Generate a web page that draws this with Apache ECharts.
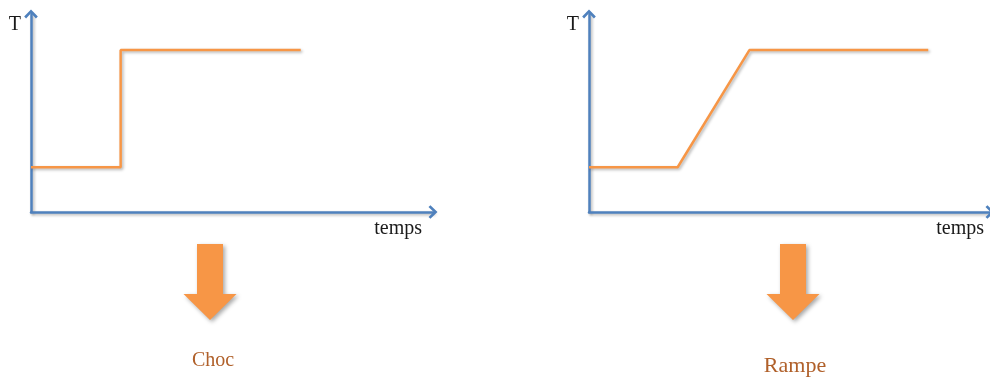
<!DOCTYPE html>
<html><head><meta charset="utf-8">
<script src="https://cdn.jsdelivr.net/npm/echarts@6/dist/echarts.min.js"></script>
<style>html,body{margin:0;padding:0;background:#fff}#c{width:990px;height:378px}</style>
</head><body><div id="c"></div>
<script>
const chocX = [0, 22.3, 22.3, 67.1];
const chocT = [22.6, 22.6, 81.8, 81.8];
const rampeX = [0, 22.1, 40.0, 84.6];
const rampeT = [22.6, 22.6, 81.8, 81.8];
const labels = ['Choc', 'Rampe'];
const axisNames = { y: 'T', x: 'temps' };

const BLUE = '#4F81BD', ORANGE = '#F79646', BROWN = '#B0602A';
const chevron = 'path://M6,0 L12,6.2 L10.3,7.9 L6,3.4 L1.7,7.9 L0,6.2 Z';
const shadow = { shadowColor: 'rgba(0,0,0,0.3)', shadowBlur: 3, shadowOffsetX: 1.5, shadowOffsetY: 1.5 };
const font = 'Liberation Serif';

function xAx(i, gap) {
  return { gridIndex: i, type: 'value', min: 0, max: 100, name: axisNames.x, nameLocation: 'end', nameGap: gap,
    nameTextStyle: { fontFamily: font, fontSize: 20, color: '#1a1a1a', align: 'right', verticalAlign: 'top', padding: [7, 0, 0, 0] },
    axisLine: { show: true, symbol: ['none', chevron], symbolSize: [15, 9], lineStyle: Object.assign({ color: BLUE, width: 2.5 }, shadow) },
    axisTick: { show: false }, axisLabel: { show: false }, splitLine: { show: false } };
}
function yAx(i) {
  return { gridIndex: i, type: 'value', min: 0, max: 100, name: axisNames.y, nameLocation: 'end', nameGap: -11,
    nameTextStyle: { fontFamily: font, fontSize: 20, color: '#1a1a1a', align: 'right', verticalAlign: 'middle', padding: [0, 10, 0, 0] },
    axisLine: { show: true, onZero: false, symbol: ['none', chevron], symbolSize: [15, 9], lineStyle: Object.assign({ color: BLUE, width: 2.5 }, shadow) },
    axisTick: { show: false }, axisLabel: { show: false }, splitLine: { show: false } };
}
function ser(i, xs, ys) {
  return { type: 'line', xAxisIndex: i, yAxisIndex: i, data: xs.map((x, k) => [x, ys[k]]), symbol: 'none',
    lineStyle: Object.assign({ color: ORANGE, width: 2.5 }, shadow), silent: true, animation: false, z: 1 };
}
function downArrow(cx) {
  const sw = 13, hw = 26.5;
  return { type: 'polygon', shape: { points: [[cx - sw, 244], [cx + sw, 244], [cx + sw, 294], [cx + hw, 294], [cx, 320], [cx - hw, 294], [cx - sw, 294]] },
    style: { fill: ORANGE, shadowColor: 'rgba(0,0,0,0.35)', shadowBlur: 4, shadowOffsetX: 2, shadowOffsetY: 2 } };
}

const chart = echarts.init(document.getElementById('c'), null, { renderer: 'canvas' });
chart.setOption({
  animation: false,
  grid: [
    { left: 31, top: 14, width: 402, height: 198 },
    { left: 589, top: 14, width: 402, height: 198 }
  ],
  xAxis: [xAx(0, -11), xAx(1, -6)],
  yAxis: [yAx(0), yAx(1)],
  series: [ser(0, chocX, chocT), ser(1, rampeX, rampeT)],
  graphic: [
    downArrow(210), downArrow(793),
    { type: 'text', x: 213, y: 361, style: { text: labels[0], fill: BROWN, font: '20px "Liberation Serif"', textAlign: 'center', textVerticalAlign: 'middle', shadowColor: 'rgba(0,0,0,0.25)', shadowBlur: 3, shadowOffsetX: 1, shadowOffsetY: 1 } },
    { type: 'text', x: 795, y: 366, style: { text: labels[1], fill: BROWN, font: '22px "Liberation Serif"', textAlign: 'center', textVerticalAlign: 'middle', shadowColor: 'rgba(0,0,0,0.25)', shadowBlur: 3, shadowOffsetX: 1, shadowOffsetY: 1 } }
  ]
});
</script></body></html>
